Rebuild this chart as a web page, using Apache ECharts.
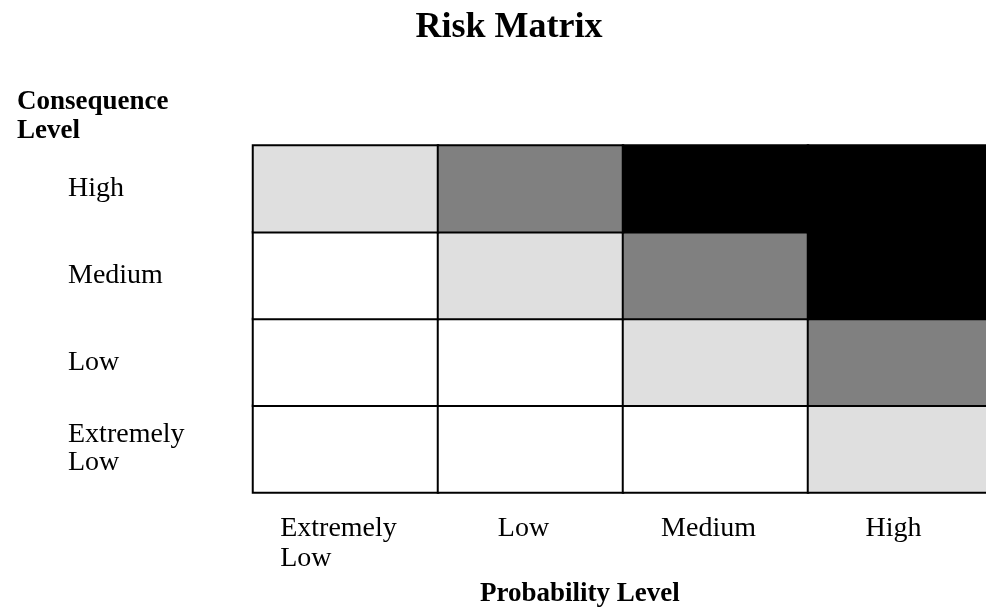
<!DOCTYPE html>
<html>
<head>
<meta charset="utf-8">
<script src="https://cdn.jsdelivr.net/npm/echarts@6/dist/echarts.min.js"></script>
<style>
  html, body { margin: 0; padding: 0; background: #fff; }
  #chart { width: 986px; height: 613px; }
</style>
</head>
<body>
<div id="chart"></div>
<script>
// probability (x) and consequence (y, bottom to top)
const probLevels = ['Extremely Low', 'Low', 'Medium', 'High'];
const consLevels = ['Extremely Low', 'Low', 'Medium', 'High'];
// risk shade per cell: 0 white, 1 light grey, 2 grey, 3 black
// rows follow consLevels order, columns follow probLevels
const riskExtremelyLow = [0, 0, 0, 1];
const riskLow = [0, 0, 1, 2];
const riskMedium = [0, 1, 2, 3];
const riskHigh = [1, 2, 3, 3];
const shades = ['#ffffff', '#dfdfdf', '#808080', '#000000'];

const rows = [riskExtremelyLow, riskLow, riskMedium, riskHigh];
const cells = [];
rows.forEach((row, y) => row.forEach((v, x) => cells.push([x, y, v])));

const serif = "'Liberation Serif', 'Times New Roman', serif";

// 'Extremely Low' is split and left aligned, like the original
const fmt = (val) => {
  const parts = val.split(' ');
  if (parts.length > 1) return parts.map(p => '{l|' + p + '}').join('\n');
  return '{l|' + val + '}';
};

const chart = echarts.init(document.getElementById('chart'));
chart.setOption({
  animation: false,
  title: [
    {
      text: 'Risk Matrix',
      left: 504,
      textAlign: 'center',
      top: 5,
      textStyle: { fontFamily: serif, fontSize: 36, fontWeight: 'bold', color: '#000' }
    },
    {
      text: 'Consequence\nLevel',
      left: 12,
      top: 83,
      textStyle: { fontFamily: serif, fontSize: 27, fontWeight: 'bold', color: '#000', lineHeight: 29 }
    },
    {
      text: 'Probability Level',
      left: 475,
      top: 576,
      textStyle: { fontFamily: serif, fontSize: 27, fontWeight: 'bold', color: '#000' }
    }
  ],
  grid: {
    left: 253,
    top: 145.5,
    width: 740,
    height: 347,
    outerBoundsMode: 'none'
  },
  xAxis: {
    type: 'category',
    data: probLevels,
    axisLine: { show: false },
    axisTick: { show: false },
    splitLine: { show: false },
    axisLabel: {
      margin: 21,
      align: 'center',
      padding: [0, 14, 0, 0],
      formatter: fmt,
      rich: { l: { align: 'left', fontFamily: serif, fontSize: 28, lineHeight: 30, color: '#000' } }
    }
  },
  yAxis: {
    type: 'category',
    data: consLevels,
    axisLine: { show: false },
    axisTick: { show: false },
    splitLine: { show: false },
    axisLabel: {
      margin: 185,
      align: 'left',
      formatter: fmt,
      rich: { l: { align: 'left', fontFamily: serif, fontSize: 28, lineHeight: 28, color: '#000' } }
    }
  },
  visualMap: {
    show: false,
    type: 'piecewise',
    dimension: 2,
    pieces: shades.map((c, i) => ({ value: i, color: c }))
  },
  series: [{
    type: 'heatmap',
    data: cells,
    itemStyle: { borderColor: '#000', borderWidth: 2 },
    emphasis: { disabled: true }
  }]
});
</script>
</body>
</html>
